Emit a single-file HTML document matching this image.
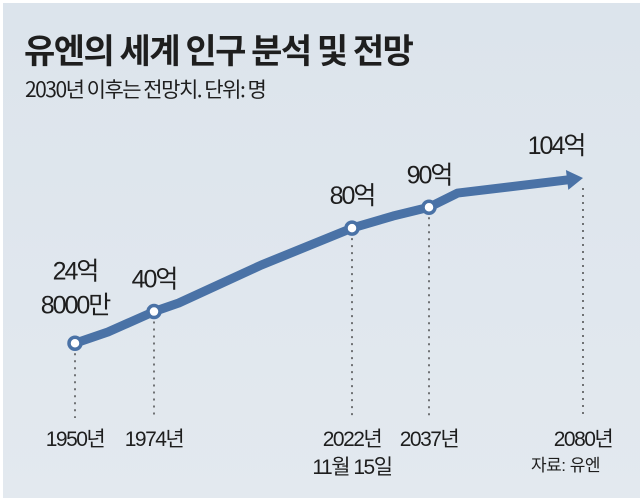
<!DOCTYPE html>
<html><head><meta charset="utf-8">
<style>
html,body{margin:0;padding:0;background:#fff;}
#wrap{position:absolute;left:3px;top:3px;width:637px;height:495px;background:linear-gradient(180deg,#dce4ec,#e3e9ef);overflow:hidden;}
svg{position:absolute;left:0;top:0;}
text{font-family:"Liberation Sans","Noto Sans CJK KR",sans-serif;fill:#1e1e1e;}
</style></head>
<body>
<div id="wrap"></div>
<svg id="chart" width="640" height="498">
  <text x="24" y="63" font-size="34" font-weight="bold" style="font-family:'Noto Sans CJK KR',sans-serif;letter-spacing:-1.5px">유엔의 세계 인구 분석 및 전망</text>
  <text x="25" y="97" font-size="21" style="font-family:'Noto Sans CJK KR',sans-serif;letter-spacing:-1.5px">2030년 이후는 전망치. 단위: 명</text>
  <text x="531" y="471" font-size="17" style="letter-spacing:-0.5px">자료: 유엔</text>
</svg>
<script>
const years = [1950,1960,1974,1980,2000,2022,2030,2037,2045,2080];
const values = [24.8,30.2,40,44.1,62.3,80,85.8,90,96.8,104];
const markedYears = [1950,1974,2022,2037];
const tickYears = [1950,1974,2022,2037,2080];
const tickLabels = ["1950년","1974년","2022년","2037년","2080년"];
const valueLabels = [["24억","8000만"],["40억"],["80억"],["90억"],["104억"]];

const NS="http://www.w3.org/2000/svg";
const svg=document.getElementById('chart');
const axYears=[1950,1974,2022,2037,2080], axPx=[75,154,352,429,583];
function x(yr){
  for(let i=0;i<axYears.length-1;i++){
    if(yr<=axYears[i+1]||i===axYears.length-2){
      const t=(yr-axYears[i])/(axYears[i+1]-axYears[i]);
      return axPx[i]+t*(axPx[i+1]-axPx[i]);
    }
  }
}
function y(v){return 395-2.086*v;}
function valAt(yr){return values[years.indexOf(yr)];}
function mk(tag,attrs){const e=document.createElementNS(NS,tag);for(const k in attrs)e.setAttribute(k,attrs[k]);svg.appendChild(e);return e;}

tickYears.forEach((yr,i)=>{
  const l=mk('line',{x1:x(yr),x2:x(yr),y1:y(valAt(yr))+10,y2:418,stroke:'#333','stroke-width':1.3,'stroke-dasharray':'2,5'});
  
  
  const t=mk('text',{x:x(yr),y:446,'font-size':21,'text-anchor':'middle','letter-spacing':'-1.5'});
  t.textContent=tickLabels[i];
  
  
});
const sub=mk('text',{x:x(2022),y:474,'font-size':21,'text-anchor':'middle','letter-spacing':'-1.5'});
sub.textContent='11월 15일';



const pts=years.map((yr,i)=>[x(yr),y(values[i])]);
const n=pts.length;
const [ex,ey]=pts[n-1],[px,py]=pts[n-2];
const ang=Math.atan2(ey-py,ex-px);
const back=[ex-16*Math.cos(ang),ey-16*Math.sin(ang)];
const dpts=pts.slice(0,n-1).concat([back]);
const line=mk('polyline',{points:dpts.map(p=>p.join(',')).join(' '),fill:'none',stroke:'#4a72a6','stroke-width':9,'stroke-linejoin':'round','stroke-linecap':'round'});


const perp=ang+Math.PI/2;
const arrow=mk('polygon',{points:[[ex,ey],[back[0]+10*Math.cos(perp),back[1]+10*Math.sin(perp)],[back[0]-10*Math.cos(perp),back[1]-10*Math.sin(perp)]].map(p=>p.join(',')).join(' '),fill:'#4a72a6'});



markedYears.forEach(yr=>{
  const c=mk('circle',{cx:x(yr),cy:y(valAt(yr)),r:6,fill:'#fff',stroke:'#4a72a6','stroke-width':3.5});
  
  
});

tickYears.forEach((yr,i)=>{
  const lines=valueLabels[i];
  const baseY=y(valAt(yr))-(yr===1950?30:24)-(lines.length-1)*34;
  lines.forEach((s,j)=>{
    const t=mk('text',{x:x(yr)-(yr===2080?27:0),y:baseY+j*34,'font-size':25,'text-anchor':'middle','letter-spacing':'-2'});
    t.textContent=s;
    
    
  });
});
</script>
</body></html>
